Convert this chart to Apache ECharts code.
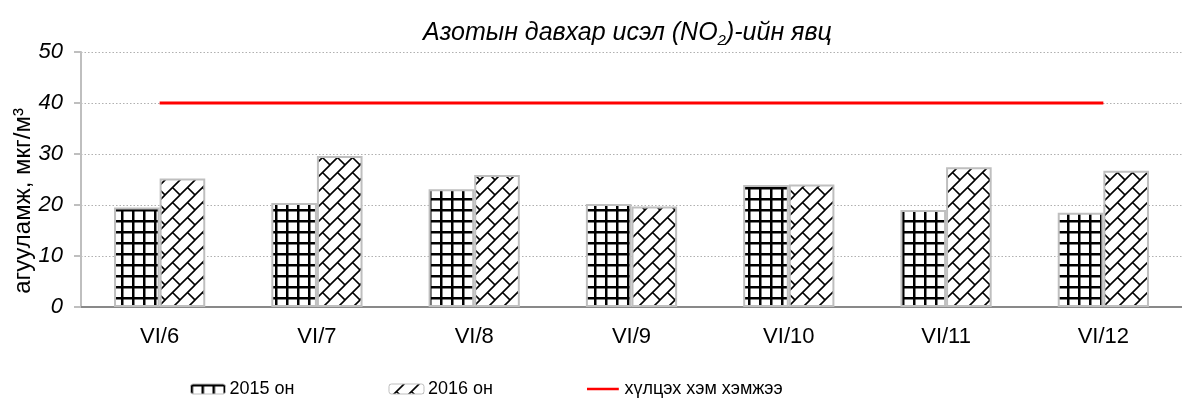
<!DOCTYPE html>
<html>
<head>
<meta charset="utf-8">
<script src="https://cdn.jsdelivr.net/npm/echarts@6/dist/echarts.min.js"></script>
<style>
html,body{margin:0;padding:0;background:#fff;}
#chart{width:1182px;height:404px;}
</style>
</head>
<body>
<div id="chart"></div>
<script>
const categories = ['VI/6', 'VI/7', 'VI/8', 'VI/9', 'VI/10', 'VI/11', 'VI/12'];
const values2015 = [19.5, 20.4, 23.1, 20.2, 23.9, 19.0, 18.5];
const values2016 = [25.2, 29.6, 25.9, 19.7, 24.0, 27.4, 26.7];
const limitValues = [40, 40, 40, 40, 40, 40, 40];
const seriesNames = ['2015 он', '2016 он', 'хүлцэх хэм хэмжээ'];
const yTicks = [0, 10, 20, 30, 40, 50];
const yAxisName = 'агууламж, мкг/м³';

function gridPattern() {
  const s = 11;
  const c = document.createElement('canvas');
  c.width = s; c.height = s;
  const g = c.getContext('2d');
  g.fillStyle = '#fff'; g.fillRect(0, 0, s, s);
  g.fillStyle = '#000';
  g.fillRect(0, 0, 2.5, s);
  g.fillRect(0, 0, s, 2.5);
  return c;
}
function brickPattern() {
  const s = 15;
  const c = document.createElement('canvas');
  c.width = s; c.height = s;
  const g = c.getContext('2d');
  g.fillStyle = '#fff'; g.fillRect(0, 0, s, s);
  g.strokeStyle = '#000'; g.lineWidth = 1.6;
  g.beginPath();
  g.moveTo(-2, s + 2); g.lineTo(s + 2, -2);
  g.moveTo(-2, 2); g.lineTo(2, -2);
  g.moveTo(s - 2, s + 2); g.lineTo(s + 2, s - 2);
  g.moveTo(s / 2, s / 2); g.lineTo(s, s);
  g.stroke();
  return c;
}
const pat2015 = { image: gridPattern(), repeat: 'repeat' };
const pat2016 = { image: brickPattern(), repeat: 'repeat' };

const chart = echarts.init(document.getElementById('chart'));
const font = 'Liberation Sans, Arial, sans-serif';
chart.setOption({
  animation: false,
  backgroundColor: '#fff',
  title: {
    text: '{t|Азотын давхар исэл (NO}{s|2}{t|)-ийн явц}',
    left: 418, top: 13,
    textStyle: {
      rich: {
        t: { fontFamily: font, fontSize: 25, fontStyle: 'italic', fontWeight: 'normal', color: '#000', lineHeight: 30 },
        s: { fontFamily: font, fontSize: 15, fontStyle: 'italic', fontWeight: 'normal', color: '#000', verticalAlign: 'bottom', lineHeight: 30, padding: [10, 0, 0, 0] }
      }
    }
  },
  graphic: [{
    type: 'text', left: 11, top: 108, rotation: Math.PI / 2,
    style: { text: yAxisName, fontFamily: font, fontSize: 24, fill: '#000' }
  }],
  grid: { left: 81, top: 52, width: 1106, height: 255 },
  legend: {
    left: 190, top: 380, padding: 0, itemWidth: 35, itemHeight: 10, itemGap: 94,
    textStyle: { fontFamily: font, fontSize: 18, color: '#000', padding: [0, 0, 0, -1] },
    data: [
      { name: seriesNames[0], itemStyle: { color: pat2015, borderColor: '#bfbfbf', borderWidth: 1 } },
      { name: seriesNames[1], itemStyle: { color: pat2016, borderColor: '#bfbfbf', borderWidth: 1 } },
      { name: seriesNames[2], icon: 'path://M0,0L0,0M0,4L35,4L35,7L0,7ZM35,11L35,11',
        itemStyle: { color: '#ff0000', borderWidth: 0 } }
    ]
  },
  xAxis: {
    type: 'category', data: categories,
    axisLine: { lineStyle: { color: '#898989', width: 2 } },
    axisTick: { show: false },
    axisLabel: { fontFamily: font, fontSize: 22, color: '#000', margin: 19 }
  },
  yAxis: {
    type: 'value', min: 0, max: 50, interval: 10,
    axisLine: { show: true, lineStyle: { color: '#bfbfbf', width: 2 } },
    axisTick: { show: true, length: 7, lineStyle: { color: '#bfbfbf', width: 2 } },
    axisLabel: { fontFamily: font, fontSize: 22, fontStyle: 'italic', color: '#000', margin: 18,
      formatter: v => yTicks.includes(v) ? String(v) : '' },
    splitLine: { lineStyle: { color: '#b0b0b0', type: [1.5, 2], width: 1.2 } }
  },
  series: [
    { name: seriesNames[0], type: 'bar', data: values2015, barGap: 0, barCategoryGap: '42%',
      itemStyle: { color: pat2015, borderColor: '#bfbfbf', borderWidth: 2 } },
    { name: seriesNames[1], type: 'bar', data: values2016, barGap: 0, barCategoryGap: '42%',
      itemStyle: { color: pat2016, borderColor: '#bfbfbf', borderWidth: 2 } },
    { name: seriesNames[2], type: 'line', data: limitValues, symbol: 'none',
      lineStyle: { color: '#ff0000', width: 3 }, itemStyle: { color: '#ff0000' } }
  ]
});
</script>
</body>
</html>
